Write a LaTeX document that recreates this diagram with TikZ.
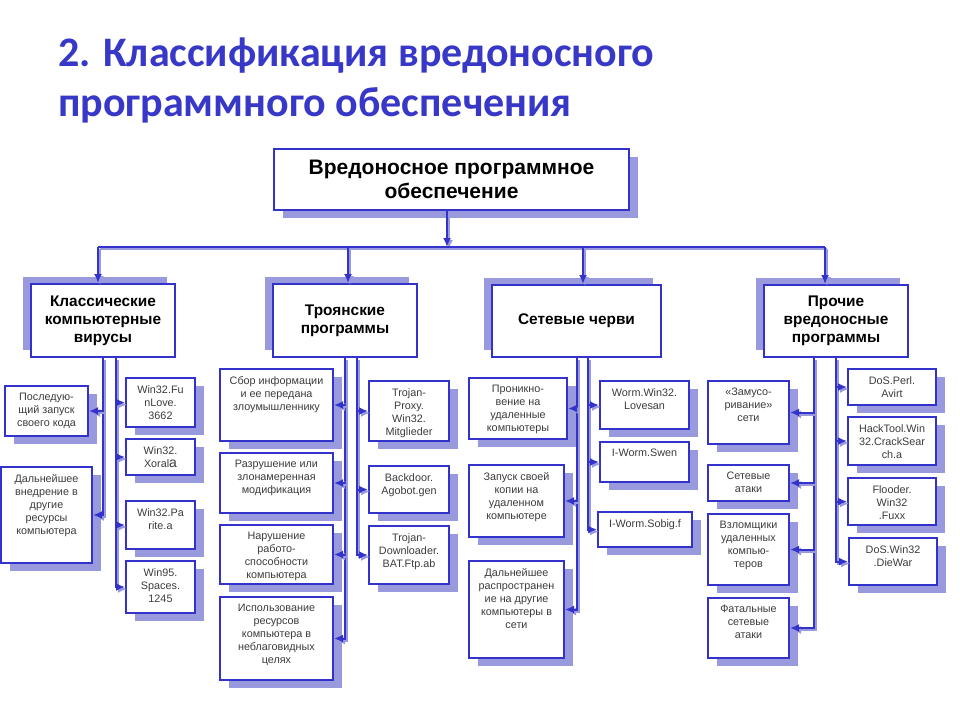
\documentclass[tikz,border=0pt]{standalone}
\usepackage{fontspec}
\setmainfont{Liberation Sans}
\newfontfamily\titlefont{Carlito}
\usetikzlibrary{arrows.meta,shadows}
\definecolor{mainblue}{RGB}{51,51,204}
\definecolor{titleblue}{RGB}{55,55,200}
\definecolor{shade}{RGB}{153,153,221}
\definecolor{leafgray}{RGB}{60,60,60}
\tikzset{
  heading/.style={anchor=north west, inner sep=0pt, align=left, text=titleblue,
    font=\titlefont\bfseries\fontsize{42}{50}\selectfont},
  topbox/.style={draw=mainblue, line width=2pt, fill=white, anchor=north west, align=center,
    drop shadow={shadow xshift=9pt, shadow yshift=-8pt, fill=shade, opacity=1},
    font=\bfseries\fontsize{21}{24}\selectfont},
  catbox/.style={draw=mainblue, line width=2pt, fill=white, anchor=north west, align=center,
    drop shadow={shadow xshift=-8pt, shadow yshift=7pt, fill=shade, opacity=1},
    font=\bfseries\fontsize{15.4}{18}\selectfont},
  leaf/.style={draw=mainblue, line width=2pt, fill=white, anchor=north west, inner sep=0pt,
    drop shadow={shadow xshift=9pt, shadow yshift=-8pt, fill=shade, opacity=1}},
  ltext/.style={anchor=north, yshift=-8pt, inner sep=0pt, align=center, text=leafgray,
    font=\fontsize{10.8}{13}\selectfont},
  conn/.style={draw=mainblue, line width=2pt,
    preaction={draw=shade, line width=2pt, transform canvas={shift={(2pt,-2pt)}}}},
  arr/.style={conn, -{Latex[length=9pt,width=8pt]}},
}

\begin{document}
\begin{tikzpicture}[x=1pt,y=-1pt]
  \fill[white] (0,0) rectangle (960,720);
  \useasboundingbox (0,0) rectangle (960,720);

  \node[heading] (ttl) at (58,38) {2. Классификация вредоносного\\программного обеспечения};

  % root and the four groups
  \node[topbox, minimum width=355pt, minimum height=61pt] (root) at (273,148)
    {Вредоносное программное\\обеспечение};
  \node[catbox, minimum width=144pt, minimum height=73pt] (vir) at (30,283)
    {Классические\\компьютерные\\вирусы};
  \node[catbox, minimum width=144pt, minimum height=73pt] (troj) at (272,283)
    {Троянские\\программы};
  \node[catbox, minimum width=169pt, minimum height=72pt] (worm) at (491,284)
    {Сетевые черви};
  \node[catbox, minimum width=144pt, minimum height=72pt] (oth) at (763,284)
    {Прочие\\вредоносные\\программы};

  % classic viruses
  \node[leaf, minimum width=83pt, minimum height=50pt,
    label={[ltext]north:{Последую-\\щий запуск\\своего кода}}] (v1) at (4,385) {};
  \node[leaf, minimum width=91pt, minimum height=96pt,
    label={[ltext]north:{Дальнейшее\\внедрение в\\другие\\ресурсы\\компьютера}}] (v2) at (0,466) {};
  \node[leaf, minimum width=69pt, minimum height=49pt,
    label={[ltext]north:{Win32.Fu\\nLove.\\3662}}] (v3) at (125,377) {};
  \node[leaf, minimum width=69pt, minimum height=36pt,
    label={[ltext]north:{Win32.\\Xoral{\fontsize{14}{13}\selectfont a}}}] (v4) at (125,438) {};
  \node[leaf, minimum width=69pt, minimum height=48pt,
    label={[ltext]north:{Win32.Pa\\rite.a}}] (v5) at (125,500) {};
  \node[leaf, minimum width=69pt, minimum height=52pt,
    label={[ltext]north:{Win95.\\Spaces.\\1245}}] (v6) at (125,560) {};

  % trojans
  \node[leaf, minimum width=113pt, minimum height=72pt,
    label={[ltext]north:{Сбор информации\\и ее передана\\злоумышленнику}}] (t1) at (219,368) {};
  \node[leaf, minimum width=113pt, minimum height=60pt,
    label={[ltext]north:{Разрушение или\\злонамеренная\\модификация}}] (t2) at (219,452) {};
  \node[leaf, minimum width=113pt, minimum height=59pt,
    label={[ltext]north:{Нарушение\\работо-\\способности\\компьютера}}] (t3) at (219,524) {};
  \node[leaf, minimum width=113pt, minimum height=83pt,
    label={[ltext]north:{Использование\\ресурсов\\компьютера в\\неблаговидных\\целях}}] (t4) at (219,596) {};
  \node[leaf, minimum width=80pt, minimum height=60pt,
    label={[ltext]north:{Trojan-\\Proxy.\\Win32.\\Mitglieder}}] (t5) at (368,380) {};
  \node[leaf, minimum width=80pt, minimum height=47pt,
    label={[ltext]north:{Backdoor.\\Agobot.gen}}] (t6) at (368,465) {};
  \node[leaf, minimum width=80pt, minimum height=58pt,
    label={[ltext]north:{Trojan-\\Downloader.\\BAT.Ftp.ab}}] (t7) at (368,525) {};

  % worms
  \node[leaf, minimum width=98pt, minimum height=61pt,
    label={[ltext]north:{Проникно-\\вение на\\удаленные\\компьютеры}}] (w1) at (468,377) {};
  \node[leaf, minimum width=95pt, minimum height=72pt,
    label={[ltext]north:{Запуск своей\\копии на\\удаленном\\компьютере}}] (w2) at (468,464) {};
  \node[leaf, minimum width=95pt, minimum height=97pt,
    label={[ltext]north:{Дальнейшее\\распространен\\ие на другие\\компьютеры в\\сети}}] (w3) at (468,560) {};
  \node[leaf, minimum width=89pt, minimum height=48pt,
    label={[ltext]north:{Worm.Win32.\\Lovesan}}] (w4) at (599,380) {};
  \node[leaf, minimum width=89pt, minimum height=40pt,
    label={[ltext]north:{I-Worm.Swen}}] (w5) at (599,441) {};
  \node[leaf, minimum width=94pt, minimum height=35pt,
    label={[ltext]north:{I-Worm.Sobig.f}}] (w6) at (597,511) {};

  % other malware
  \node[leaf, minimum width=81pt, minimum height=63pt,
    label={[ltext]north:{«Замусо-\\ривание»\\сети}}] (o1) at (707,380) {};
  \node[leaf, minimum width=81pt, minimum height=36pt,
    label={[ltext]north:{Сетевые\\атаки}}] (o2) at (707,464) {};
  \node[leaf, minimum width=81pt, minimum height=71pt,
    label={[ltext]north:{Взломщики\\удаленных\\компью-\\теров}}] (o3) at (707,513) {};
  \node[leaf, minimum width=81pt, minimum height=60pt,
    label={[ltext]north:{Фатальные\\сетевые\\атаки}}] (o4) at (707,597) {};
  \node[leaf, minimum width=88pt, minimum height=36pt,
    label={[ltext]north:{DoS.Perl.\\Avirt}}] (o5) at (847,368) {};
  \node[leaf, minimum width=88pt, minimum height=48pt,
    label={[ltext]north:{HackTool.Win\\32.CrackSear\\ch.a}}] (o6) at (847,416) {};
  \node[leaf, minimum width=88pt, minimum height=47pt,
    label={[ltext]north:{Flooder.\\Win32\\.Fuxx}}] (o7) at (847,477) {};
  \node[leaf, minimum width=88pt, minimum height=47pt,
    label={[ltext]north:{DoS.Win32\\.DieWar}}] (o8) at (848,537) {};

  % bus under the root
  \coordinate (bus) at (447,247);
  \coordinate (b1) at (98,247);
  \coordinate (b2) at (348,247);
  \coordinate (b3) at (583,247);
  \coordinate (b4) at (825,247);
  \draw[arr] (bus |- root.south) -- (bus);
  \draw[conn] (b1) -- (b4);
  \draw[arr] (b1) -- (b1 |- vir.north);
  \draw[arr] (b2) -- (b2 |- troj.north);
  \draw[arr] (b3) -- (b3 |- worm.north);
  \draw[arr] (b4) -- (b4 |- oth.north);

  % trunks, left goes to features, right to examples
  \coordinate (vL) at (vir.south);
  \coordinate (vR) at ([xshift=13pt]vir.south);
  \draw[arr] (vL) |- (v2.east);
  \draw[arr] (vL |- v1.east) -- (v1.east);
  \draw[arr] (vR) |- (v6.west);
  \foreach \b in {v3,v4,v5}
    \draw[arr] (vR |- \b.west) -- (\b.west);

  \coordinate (tL) at (troj.south);
  \coordinate (tR) at ([xshift=12pt]troj.south);
  \draw[arr] (tL) |- (t4.east);
  \foreach \b in {t1,t2,t3}
    \draw[arr] (tL |- \b.east) -- (\b.east);
  \draw[arr] (tR) |- (t7.west);
  \foreach \b in {t5,t6}
    \draw[arr] (tR |- \b.west) -- (\b.west);

  \coordinate (wL) at (worm.south);
  \coordinate (wR) at ([xshift=11.5pt]worm.south);
  \draw[arr] (wL) |- (w3.east);
  \foreach \b in {w1,w2}
    \draw[arr] (wL |- \b.east) -- (\b.east);
  \draw[arr] (wR) |- (w6.west);
  \foreach \b in {w4,w5}
    \draw[arr] (wR |- \b.west) -- (\b.west);

  \coordinate (oL) at ([xshift=-22pt]oth.south);
  \coordinate (oR) at (oth.south);
  \draw[arr] (oL) |- (o4.east);
  \foreach \b in {o1,o2,o3}
    \draw[arr] (oL |- \b.east) -- (\b.east);
  \draw[arr] (oR) |- (o8.west);
  \foreach \b in {o5,o6,o7}
    \draw[arr] (oR |- \b.west) -- (\b.west);
\end{tikzpicture}
\end{document}
